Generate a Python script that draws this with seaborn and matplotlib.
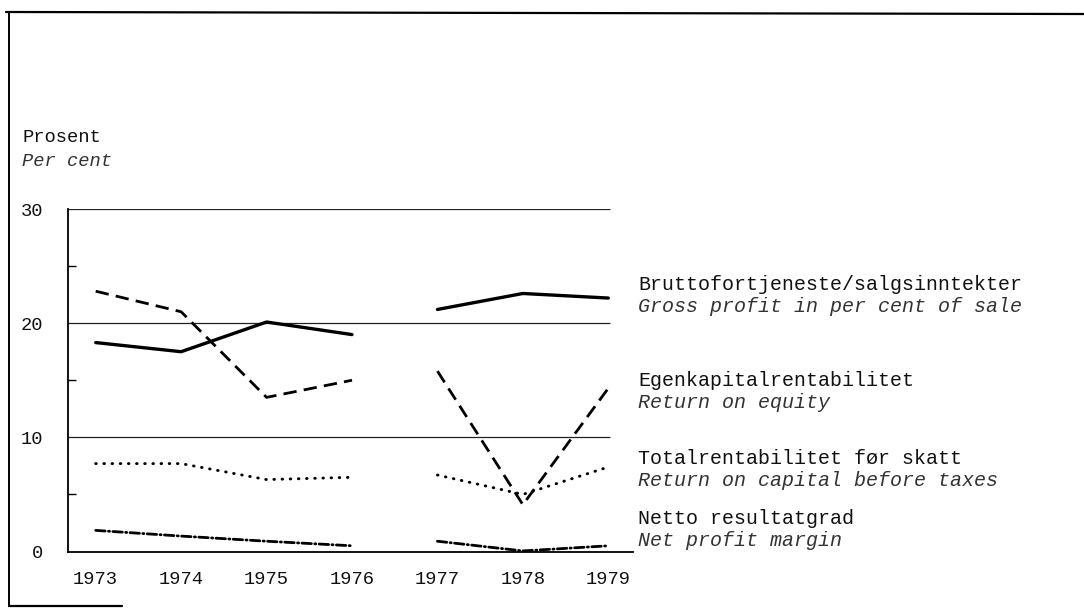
import numpy as np
import pandas as pd
import matplotlib
matplotlib.use("Agg")
import matplotlib.pyplot as plt
from matplotlib.lines import Line2D
import seaborn as sns

# ---- data ----
years = [1973, 1974, 1975, 1976, 1977, 1978, 1979]
period = ["A", "A", "A", "A", "B", "B", "B"]
gross_profit = [18.3, 17.5, 20.1, 19.0, 21.2, 22.6, 22.2]
return_equity = [22.8, 21.0, 13.5, 15.0, 15.8, 4.1, 14.3]
return_capital = [7.7, 7.7, 6.3, 6.5, 6.7, 5.0, 7.4]
net_margin = [1.85, 1.35, 0.9, 0.5, 0.9, 0.05, 0.5]

series_no = ["Bruttofortjeneste/salgsinntekter", "Egenkapitalrentabilitet",
             "Totalrentabilitet før skatt", "Netto resultatgrad"]
series_en = ["Gross profit in per cent of sale", "Return on equity",
             "Return on capital before taxes", "Net profit margin"]
yticks = [0, 10, 20, 30]

sns.set_theme(style="white")
plt.rcParams["font.family"] = ["Liberation Mono", "DejaVu Sans Mono"]

rows = []
for name, vals in zip(series_no, [gross_profit, return_equity, return_capital, net_margin]):
    for y, p, v in zip(years, period, vals):
        rows.append({"year": y, "period": p, "series": name, "value": v})
df = pd.DataFrame(rows)

W, H = 1084, 608
fig = plt.figure(figsize=(W / 100, H / 100), dpi=100)
fig.patch.set_facecolor("white")

x_left_px, x_right_px = 68, 633
y0_px, y30_px = 551.5, 209
ax = fig.add_axes([x_left_px / W, 1 - y0_px / H, (x_right_px - x_left_px) / W, (y0_px - y30_px) / H])
ax.set_facecolor("none")

ppy = (608.3 - 95.7) / 6
xmin = 1973 - (95.7 - x_left_px) / ppy
xmax = 1979 + (x_right_px - 608.3) / ppy
ax.set_xlim(xmin, xmax)
ax.set_ylim(0, 30)

# gridlines
ax.hlines([10, 20, 30], xmin, 1979.02, color="#222222", lw=0.9, zorder=1)

dashes = {
    series_no[0]: "",
    series_no[1]: (4.8, 2.6),
    series_no[2]: (0.2, 2.6),
    series_no[3]: (3.4, 1.2, 0.4, 1.2),
}
widths = {series_no[0]: 2.4, series_no[1]: 2.0, series_no[2]: 2.1, series_no[3]: 2.0}
caps = {series_no[0]: "butt", series_no[1]: "butt", series_no[2]: "round", series_no[3]: "round"}

for name in series_no:
    sub = df[df["series"] == name]
    sns.lineplot(data=sub, x="year", y="value", units="period", estimator=None,
                 style="series", dashes={name: dashes[name]}, color="black",
                 lw=widths[name], dash_capstyle=caps[name], legend=False, ax=ax, zorder=3)

# spines
for s in ["top", "right"]:
    ax.spines[s].set_visible(False)
for s in ["left", "bottom"]:
    ax.spines[s].set_color("black")
    ax.spines[s].set_linewidth(1.3)

ax.set_xticks(years)
ax.set_xticklabels([str(y) for y in years])
ax.set_yticks(yticks)
ax.set_yticklabels([str(t) for t in yticks])
ax.set_yticks([5, 15, 25], minor=True)
ax.tick_params(axis="x", which="major", direction="in", length=5, width=1, color="black",
               pad=14, labelsize=13.5, labelcolor="#111111")
ax.tick_params(axis="y", which="major", length=0, pad=18, labelsize=13.5, labelcolor="#111111")
ax.tick_params(axis="y", which="minor", direction="in", length=6, width=1, color="black", left=True)
ax.set_xlabel("")
ax.set_ylabel("")

# axis title
fig.text(22 / W, 1 - 137 / H, "Prosent", fontsize=13.5, va="center", ha="left", color="#111111")
fig.text(22 / W, 1 - 162 / H, "Per cent", fontsize=13.5, va="center", ha="left",
         style="italic", color="#333333")

# series labels
label_y = [(285, 307), (380, 403), (458, 480), (519, 540)]
for (yn, ye), tn, te in zip(label_y, series_no, series_en):
    fig.text(638 / W, 1 - yn / H, tn, fontsize=14.4, va="center", ha="left", color="#111111")
    fig.text(638 / W, 1 - ye / H, te, fontsize=14.4, va="center", ha="left",
             style="italic", color="#333333")

# document frame
fig.add_artist(Line2D([6 / W, 1.0], [1 - 12 / H, 1 - 14 / H], color="black", lw=1.6))
fig.add_artist(Line2D([9 / W, 9 / W], [1 - 12 / H, 1 - 606 / H], color="black", lw=1.4))
fig.add_artist(Line2D([9 / W, 122 / W], [1 - 606 / H, 1 - 606 / H], color="black", lw=1.6))

fig.savefig("out.png", dpi=100, facecolor="white")
